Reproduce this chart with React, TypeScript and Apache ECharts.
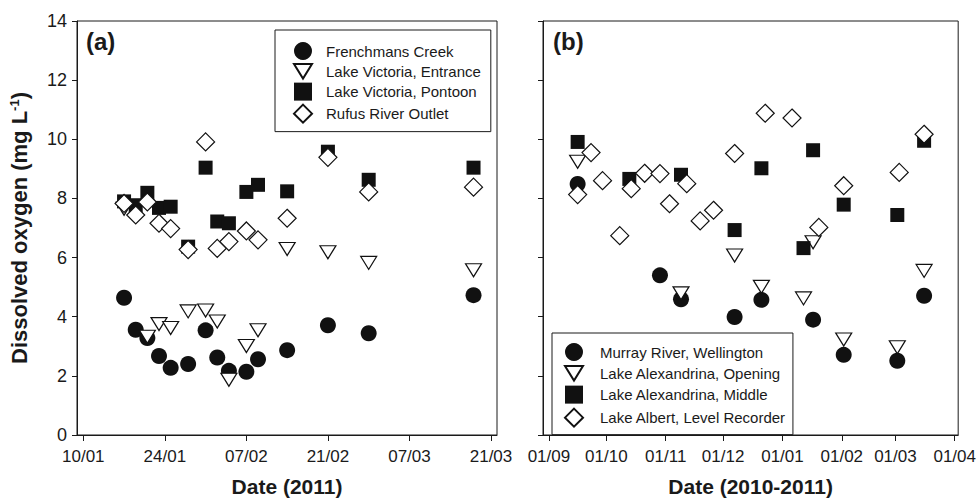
import React, { useEffect, useRef } from "react";
import * as echarts from "echarts";

const FONT = "'Liberation Sans', Arial, Helvetica, sans-serif";
const INK = "#1a1a1a";
const MARK = "#111111";

// ---------- Panel (a): sampling dates in 2011 ----------
const A_DATES = [
  "2011-01-17", "2011-01-19", "2011-01-21", "2011-01-23", "2011-01-25",
  "2011-01-28", "2011-01-31", "2011-02-02", "2011-02-04", "2011-02-07",
  "2011-02-09", "2011-02-14", "2011-02-21", "2011-02-28", "2011-03-18",
];
const FRENCHMANS_CREEK = [4.64, 3.56, 3.28, 2.67, 2.27, 2.4, 3.54, 2.62, 2.17, 2.14, 2.56, 2.87, 3.71, 3.44, 4.73];
const LV_ENTRANCE = [7.65, null, 3.32, 3.75, 3.62, 4.18, 4.21, 3.84, 1.87, 3.01, 3.54, 6.29, 6.18, 5.82, 5.57];
const LV_PONTOON = [7.9, 7.77, 8.19, 7.68, 7.72, 6.37, 9.04, 7.22, 7.16, 8.22, 8.46, 8.24, 9.58, 8.63, 9.04];
const RUFUS_OUTLET = [7.83, 7.44, 7.88, 7.16, 6.98, 6.27, 9.91, 6.31, 6.54, 6.9, 6.6, 7.33, 9.39, 8.22, 8.38];

const A_TICK_DATES = ["2011-01-10", "2011-01-24", "2011-02-07", "2011-02-21", "2011-03-07", "2011-03-21"];
const A_TICK_LABELS = ["10/01", "24/01", "07/02", "21/02", "07/03", "21/03"];

// ---------- Panel (b): sampling dates 2010-2011 ----------
const MR_DATES = ["2010-09-16", "2010-10-29", "2010-11-09", "2010-12-07", "2010-12-21", "2011-01-17", "2011-02-02", "2011-03-02", "2011-03-16"];
const MR_WELLINGTON = [8.49, 5.4, 4.59, 3.99, 4.57, 3.9, 2.71, 2.51, 4.71];

const LAO_DATES = ["2010-09-16", "2010-11-09", "2010-12-07", "2010-12-21", "2011-01-12", "2011-01-17", "2011-02-02", "2011-03-02", "2011-03-16"];
const LA_OPENING = [9.24, 4.79, 6.07, 5.01, 4.62, 6.52, 3.23, 2.97, 5.55];

const LAM_DATES = ["2010-09-16", "2010-10-13", "2010-11-09", "2010-12-07", "2010-12-21", "2011-01-12", "2011-01-17", "2011-02-02", "2011-03-02", "2011-03-16"];
const LA_MIDDLE = [9.91, 8.66, 8.8, 6.93, 9.02, 6.32, 9.63, 7.79, 7.44, 9.95];

const LAL_DATES = [
  "2010-09-16", "2010-09-23", "2010-09-29", "2010-10-08", "2010-10-14", "2010-10-21",
  "2010-10-29", "2010-11-03", "2010-11-12", "2010-11-19", "2010-11-26", "2010-12-07",
  "2010-12-23", "2011-01-06", "2011-01-20", "2011-02-02", "2011-03-03", "2011-03-16",
];
const LA_ALBERT = [8.13, 9.55, 8.6, 6.74, 8.33, 8.85, 8.84, 7.82, 8.5, 7.24, 7.6, 9.52, 10.88, 10.72, 7.02, 8.43, 8.88, 10.17];

const B_TICK_DATES = ["2010-09-01", "2010-10-01", "2010-11-01", "2010-12-01", "2011-01-01", "2011-02-01", "2011-03-01", "2011-04-01"];
const B_TICK_LABELS = ["01/09", "01/10", "01/11", "01/12", "01/01", "01/02", "01/03", "01/04"];

const Y_TICKS = ["0", "2", "4", "6", "8", "10", "12", "14"];

// ---------- helpers ----------
const DAY = 86400000;
const utc = (s: string) => {
  const [y, m, d] = s.split("-").map(Number);
  return Date.UTC(y, m - 1, d);
};
const A_BASE = utc("2010-12-31");
const B_BASE = utc("2010-09-01");
const dayA = (s: string) => Math.round((utc(s) - A_BASE) / DAY);
const dayB = (s: string) => Math.round((utc(s) - B_BASE) / DAY);

const pairs = (dates: string[], vals: (number | null)[], f: (s: string) => number) =>
  dates
    .map((d, i) => [f(d), vals[i]] as [number, number | null])
    .filter((p) => p[1] !== null);

const TRI = "path://M0,0L16,0L8,13Z";

const styleCircle = { symbol: "circle", symbolSize: 16, itemStyle: { color: MARK, borderColor: MARK, borderWidth: 0, opacity: 1 } };
const styleTri = { symbol: TRI, symbolSize: [16, 13], itemStyle: { color: "#ffffff", borderColor: MARK, borderWidth: 1.2, opacity: 1 } };
const styleSquare = { symbol: "rect", symbolSize: 14, itemStyle: { color: MARK, borderColor: MARK, borderWidth: 0, opacity: 1 } };
const styleDiamond = { symbol: "diamond", symbolSize: 18, itemStyle: { color: "#ffffff", borderColor: MARK, borderWidth: 1.2, opacity: 1 } };

const scatter = (name: string, idx: number, data: any[], st: any) => ({
  type: "scatter",
  name,
  xAxisIndex: idx,
  yAxisIndex: idx,
  data,
  silent: true,
  emphasis: { disabled: true },
  ...st,
});

const xAxisCfg = (idx: number, min: number, max: number, ticks: number[], labels: string[], name: string) => ({
  type: "value",
  gridIndex: idx,
  min,
  max,
  axisLine: { show: true, onZero: false, lineStyle: { color: INK, width: 1 } },
  axisTick: { show: true, inside: false, length: 6, customValues: ticks, lineStyle: { color: INK, width: 1 } },
  axisLabel: {
    customValues: ticks,
    hideOverlap: false,
    formatter: (v: number) => {
      const i = ticks.findIndex((t) => Math.abs(t - v) < 0.01);
      return i >= 0 ? labels[i] : "";
    },
    fontSize: 17,
    color: INK,
    fontFamily: FONT,
    margin: 12.5,
  },
  splitLine: { show: false },
  name,
  nameLocation: "middle",
  nameGap: 41,
  nameTextStyle: { fontSize: 21, fontWeight: "bold", color: INK, fontFamily: FONT },
});

const yAxisCfg = (idx: number, showLabels: boolean) => ({
  type: "value",
  gridIndex: idx,
  min: 0,
  max: 14,
  interval: 2,
  axisLine: { show: true, onZero: false, lineStyle: { color: INK, width: 1 } },
  axisTick: { show: true, inside: false, length: 5, lineStyle: { color: INK, width: 1 } },
  axisLabel: {
    show: showLabels,
    fontSize: 18,
    color: INK,
    fontFamily: FONT,
    margin: 10,
    formatter: (v: number) => Y_TICKS[Math.round(v / 2)] ?? String(v),
  },
  splitLine: { show: false },
  ...(showLabels
    ? {
        name: "Dissolved oxygen (mg L{sup|-1})",
        nameLocation: "middle",
        nameRotate: 90,
        nameGap: 47,
        nameTextStyle: {
          fontSize: 22,
          fontWeight: "bold",
          color: INK,
          fontFamily: FONT,
          rich: {
            sup: { fontSize: 13, fontWeight: "bold", color: INK, fontFamily: FONT, verticalAlign: "top", lineHeight: 13 },
          },
        },
      }
    : {}),
});

const legendCfg = (names: string[], left: number, top: number, padding: number[], gap: number, textPad: number) => ({
  data: names,
  orient: "vertical",
  left,
  top,
  padding,
  itemGap: gap,
  itemWidth: 18,
  itemHeight: 18,
  selectedMode: false,
  borderColor: INK,
  borderWidth: 1,
  backgroundColor: "#ffffff",
  textStyle: { fontSize: 15, color: INK, fontFamily: FONT, padding: [0, 0, 0, textPad] },
});

const NAMES_A = ["Frenchmans Creek", "Lake Victoria, Entrance", "Lake Victoria, Pontoon", "Rufus River Outlet"];
const NAMES_B = ["Murray River, Wellington", "Lake Alexandrina, Opening", "Lake Alexandrina, Middle", "Lake Albert, Level Recorder"];

export default function App() {
  const ref = useRef<HTMLDivElement>(null);

  useEffect(() => {
    if (!ref.current) return;
    const chart = echarts.init(ref.current, null, { renderer: "svg", width: 979, height: 502 });

    const aTicks = A_TICK_DATES.map(dayA);
    const bTicks = B_TICK_DATES.map(dayB);

    chart.setOption({
      animation: false,
      backgroundColor: "#ffffff",
      textStyle: { fontFamily: FONT },
      grid: [
        { left: 77, top: 21, width: 420, height: 420, show: true, borderColor: INK, borderWidth: 1, containLabel: false },
        { left: 543, top: 21, width: 420, height: 420, show: true, borderColor: INK, borderWidth: 1, containLabel: false },
      ],
      xAxis: [
        xAxisCfg(0, 8.92, 81.03, aTicks, A_TICK_LABELS, "Date (2011)"),
        xAxisCfg(1, -3.1, 213.8, bTicks, B_TICK_LABELS, "Date (2010-2011)"),
      ],
      yAxis: [yAxisCfg(0, true), yAxisCfg(1, false)],
      legend: [
        legendCfg(NAMES_A, 275, 30, [12, 10, 8, 18], 3, 9),
        legendCfg(NAMES_B, 552, 333, [10, 7, 7, 12], 4, 12),
      ],
      graphic: [
        { type: "text", left: 86, top: 29, style: { text: "(a)", font: `bold 24px ${FONT}`, fill: INK } },
        { type: "text", left: 553, top: 29, style: { text: "(b)", font: `bold 24px ${FONT}`, fill: INK } },
      ],
      series: [
        scatter(NAMES_A[0], 0, pairs(A_DATES, FRENCHMANS_CREEK, dayA), styleCircle),
        scatter(NAMES_A[1], 0, pairs(A_DATES, LV_ENTRANCE, dayA), styleTri),
        scatter(NAMES_A[2], 0, pairs(A_DATES, LV_PONTOON, dayA), styleSquare),
        scatter(NAMES_A[3], 0, pairs(A_DATES, RUFUS_OUTLET, dayA), styleDiamond),
        scatter(NAMES_B[0], 1, pairs(MR_DATES, MR_WELLINGTON, dayB), styleCircle),
        scatter(NAMES_B[1], 1, pairs(LAO_DATES, LA_OPENING, dayB), styleTri),
        scatter(NAMES_B[2], 1, pairs(LAM_DATES, LA_MIDDLE, dayB), styleSquare),
        scatter(NAMES_B[3], 1, pairs(LAL_DATES, LA_ALBERT, dayB), styleDiamond),
      ],
    });

    return () => chart.dispose();
  }, []);

  return (
    <div
      ref={ref}
      style={{ position: "fixed", left: 0, top: 0, width: 979, height: 502, background: "#ffffff" }}
    />
  );
}
